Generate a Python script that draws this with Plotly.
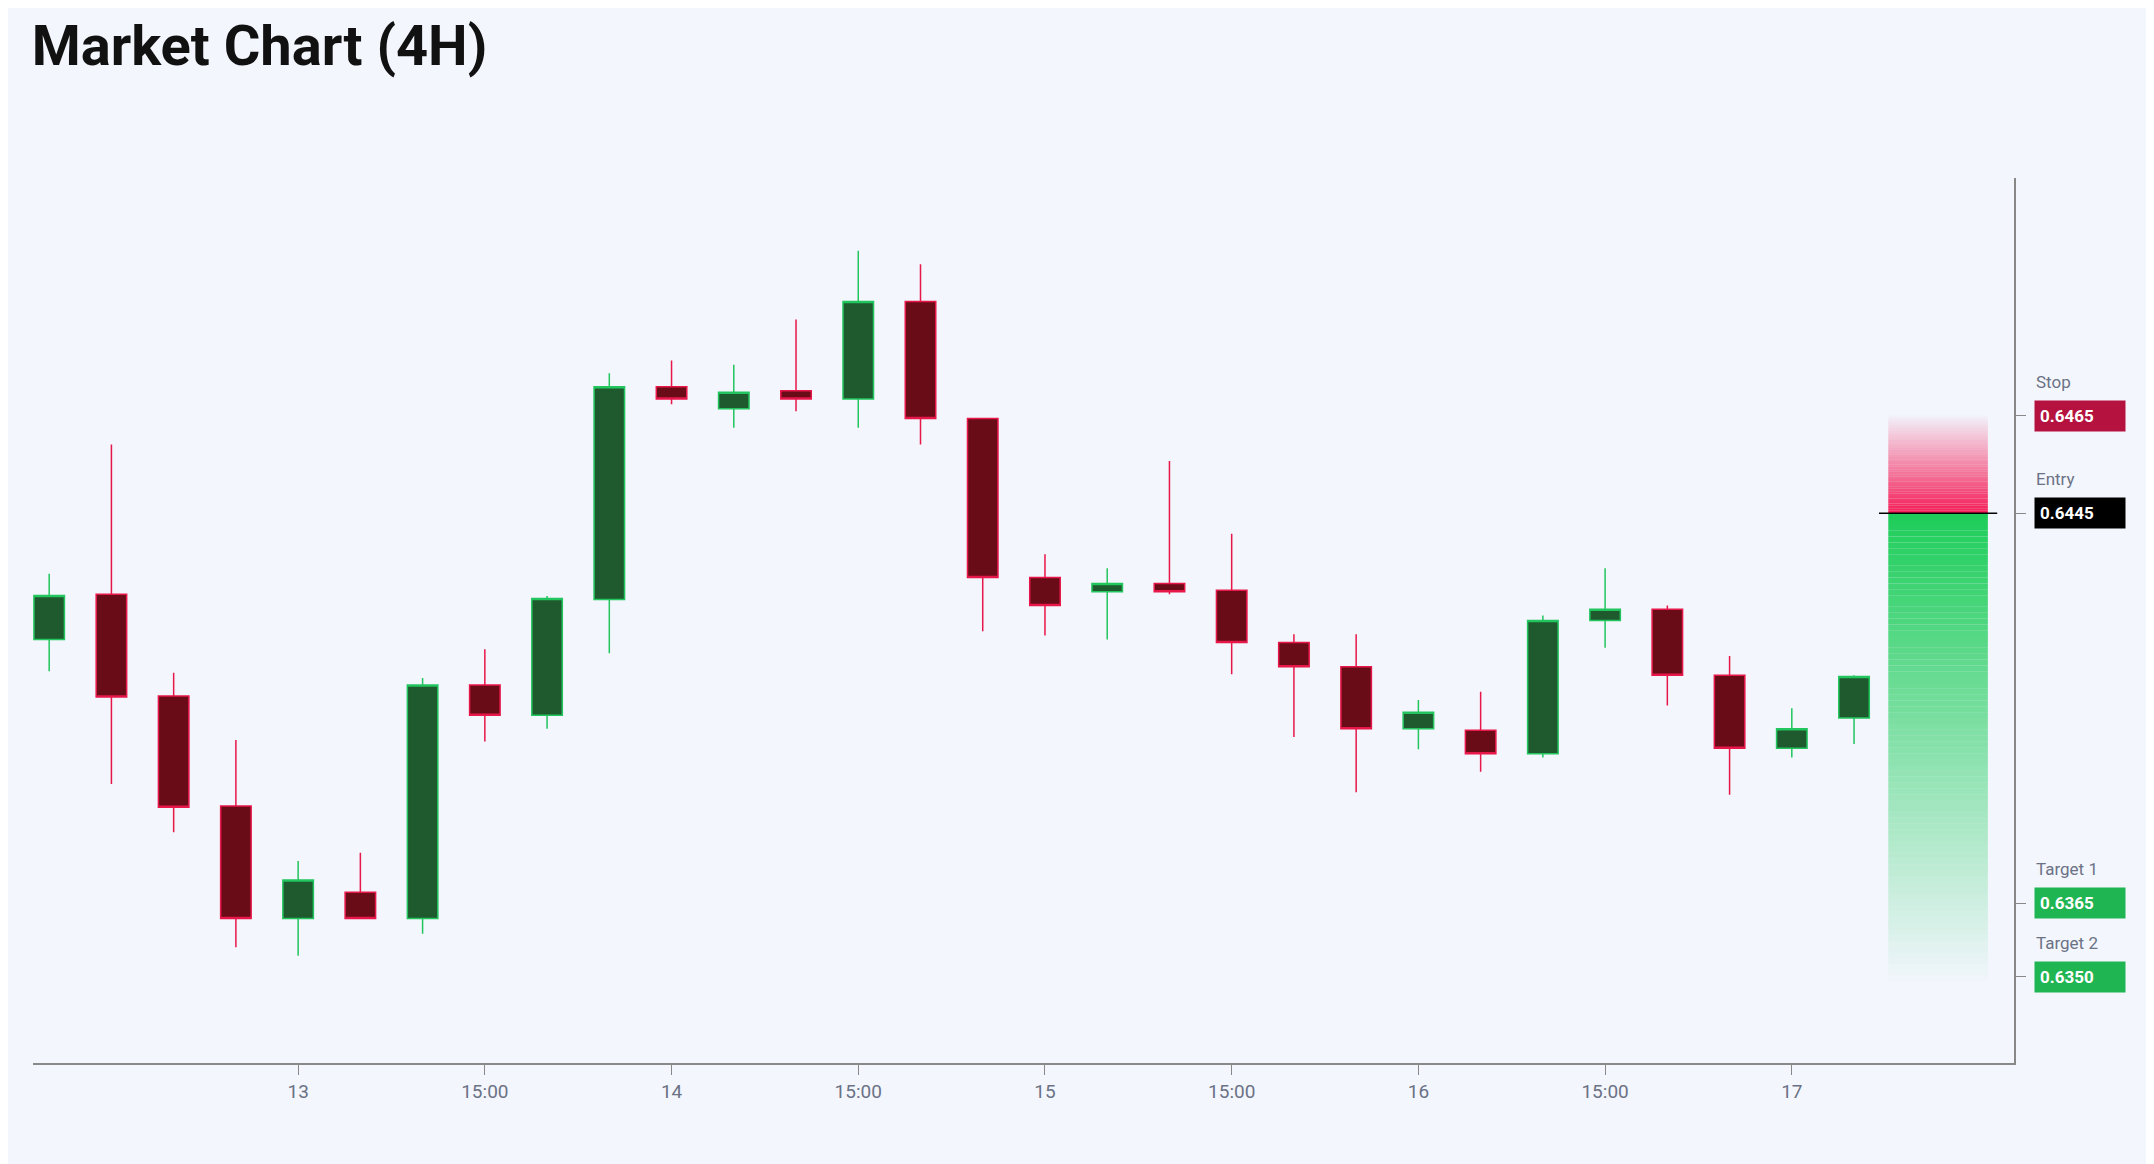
import plotly.graph_objects as go

# 4H candles, values
open_ = [0.64191, 0.64284, 0.64075, 0.63850, 0.63619, 0.63673, 0.63619, 0.64098, 0.64036, 0.64273,
         0.64709, 0.64664, 0.64701, 0.64684, 0.64884, 0.64644, 0.64318, 0.64289, 0.64306, 0.64292,
         0.64185, 0.64135, 0.64008, 0.64005, 0.63957, 0.64230, 0.64253, 0.64118, 0.63968, 0.64030]
high = [0.64326, 0.64591, 0.64123, 0.63985, 0.63737, 0.63754, 0.64112, 0.64171, 0.64280, 0.64737,
        0.64763, 0.64754, 0.64847, 0.64988, 0.64960, 0.64644, 0.64366, 0.64337, 0.64557, 0.64408,
        0.64202, 0.64202, 0.64067, 0.64084, 0.64240, 0.64337, 0.64261, 0.64157, 0.64050, 0.64118]
low = [0.64126, 0.63895, 0.63796, 0.63560, 0.63543, 0.63619, 0.63588, 0.63982, 0.64008, 0.64163,
       0.64673, 0.64625, 0.64659, 0.64625, 0.64591, 0.64208, 0.64199, 0.64191, 0.64284, 0.64120,
       0.63991, 0.63878, 0.63966, 0.63920, 0.63949, 0.64174, 0.64056, 0.63873, 0.63949, 0.63977]
close = [0.64281, 0.64073, 0.63847, 0.63619, 0.63698, 0.63619, 0.64098, 0.64036, 0.64275, 0.64709,
         0.64684, 0.64698, 0.64684, 0.64884, 0.64644, 0.64318, 0.64261, 0.64306, 0.64289, 0.64185,
         0.64135, 0.64008, 0.64042, 0.63957, 0.64230, 0.64253, 0.64118, 0.63968, 0.64008, 0.64115]

tick_pos = [4, 7, 10, 13, 16, 19, 22, 25, 28]
tick_text = ["13", "15:00", "14", "15:00", "15", "15:00", "16", "15:00", "17"]

stop = 0.6465
entry = 0.6445
target1 = 0.6365
target2 = 0.6350
zone_bottom = 0.6349

x = list(range(len(open_)))

fig = go.Figure(go.Candlestick(
    x=x, open=open_, high=high, low=low, close=close,
    increasing=dict(line=dict(color="#22c55e", width=1.5), fillcolor="#1f5a2e"),
    decreasing=dict(line=dict(color="#e8174a", width=1.5), fillcolor="#6a0c17"),
    whiskerwidth=0, showlegend=False, hoverinfo="skip",
))

# gradient zones built from thin strips
shapes = []
zx0, zx1 = 29.55, 31.15
n = 40
for i in range(n):
    y0 = entry + (stop - entry) * i / n
    y1 = entry + (stop - entry) * (i + 1) / n
    a = 1 - i / n
    shapes.append(dict(type="rect", xref="x", yref="y", x0=zx0, x1=zx1, y0=y0, y1=y1,
                       fillcolor=f"rgba(244,20,80,{a*0.95:.3f})", line=dict(width=0), layer="below"))
for i in range(n * 2):
    y0 = entry - (entry - zone_bottom) * i / (2 * n)
    y1 = entry - (entry - zone_bottom) * (i + 1) / (2 * n)
    a = 1 - i / (2 * n)
    shapes.append(dict(type="rect", xref="x", yref="y", x0=zx0, x1=zx1, y0=y1, y1=y0,
                       fillcolor=f"rgba(30,205,90,{a:.3f})", line=dict(width=0), layer="below"))
shapes.append(dict(type="line", xref="x", yref="y", x0=29.4, x1=31.3, y0=entry, y1=entry,
                   line=dict(color="black", width=1.5)))

annotations = []
levels = [("Stop", stop, "#b5123f"), ("Entry", entry, "#000000"),
          ("Target 1", target1, "#1fb552"), ("Target 2", target2, "#1fb552")]
for name, val, col in levels:
    annotations.append(dict(xref="paper", yref="y", x=1.01, y=val, xanchor="left", yanchor="middle",
                            text=f"<b>{val:.4f}</b>", showarrow=False, bgcolor=col,
                            font=dict(color="white", size=17, family="Roboto"),
                            borderpad=5, width=80, align="left"))
    annotations.append(dict(xref="paper", yref="y", x=1.01, y=val, xanchor="left", yanchor="bottom",
                            yshift=22, text=name, showarrow=False,
                            font=dict(color="#6b7285", size=17, family="Roboto")))

fig.update_layout(
    width=2154, height=1164,
    paper_bgcolor="#f3f6fd", plot_bgcolor="#f3f6fd",
    margin=dict(l=25, r=148, t=170, b=109),
    title=dict(text="<b>Market Chart (4H)</b>", x=0.011, xanchor="left", y=0.985, yanchor="top",
               font=dict(size=56, family="Roboto", color="#111")),
    shapes=shapes, annotations=annotations,
    xaxis=dict(range=[-0.26, 31.57], rangeslider=dict(visible=False), showgrid=False, zeroline=False,
               tickvals=tick_pos, ticktext=tick_text, ticks="outside", ticklen=10, tickcolor="#888",
               showline=True, linecolor="#888", linewidth=1.5,
               tickfont=dict(size=19, color="#6b7285", family="Roboto")),
    yaxis=dict(range=[0.63323, 0.65137], side="right", showgrid=False, zeroline=False,
               showticklabels=False, tickvals=[stop, entry, target1, target2], ticks="outside",
               ticklen=10, tickcolor="#888", showline=True, linecolor="#888", linewidth=1.5),
)

fig.write_html("out.html")
